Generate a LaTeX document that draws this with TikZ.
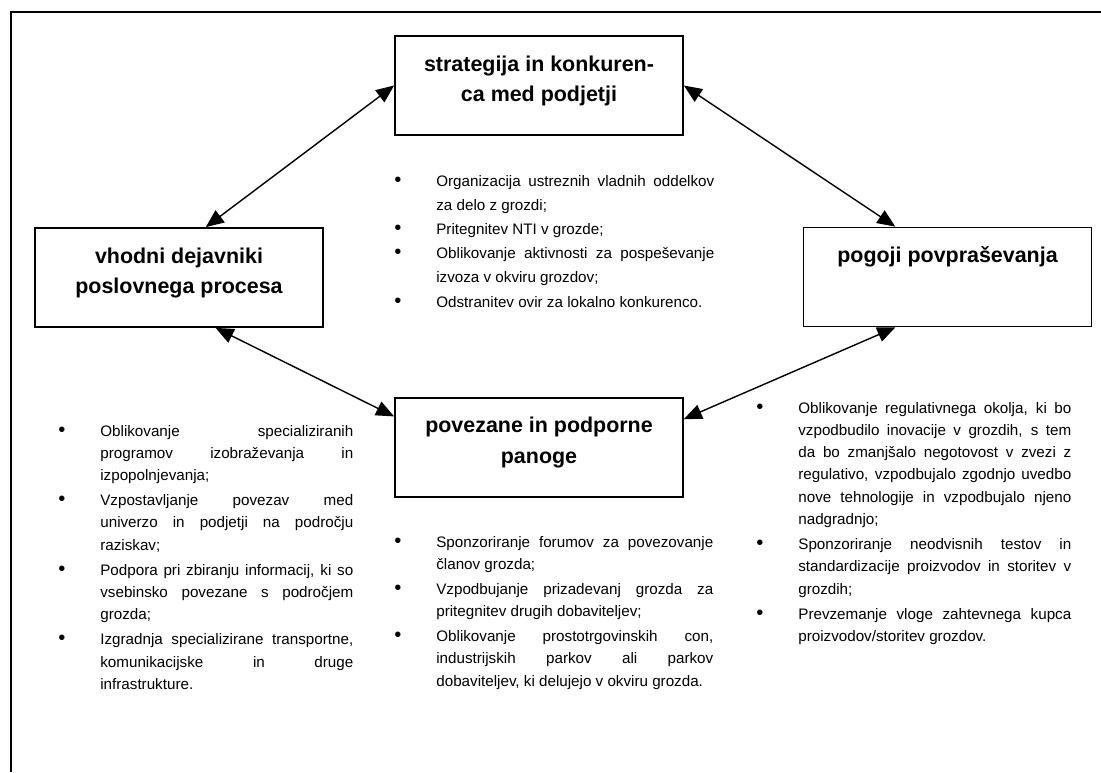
\documentclass[tikz,border=0pt]{standalone}
\usepackage{fontspec}
\setmainfont{Liberation Sans}
\usetikzlibrary{positioning,arrows.meta}

\newlength{\pxu}
\setlength{\pxu}{0.02cm}

% title of a box, set from the top
\newcommand{\boxtitle}[1]{\parbox[c][99\pxu][t]{288\pxu}{\centering
\fontsize{12.2}{17.6}\selectfont\bfseries\rule{0pt}{35\pxu}#1}}
\newcommand{\itm}{\noindent\llap{{\fontsize{11.5}{11.5}\selectfont\textbullet}\hspace{35\pxu}}}
\newcommand{\colset}[1]{\fontsize{8.65}{#1}\selectfont\setlength{\parskip}{1.5pt}\hyphenpenalty=10000 }

\begin{document}
\begin{tikzpicture}[
x=0.02cm, y=-0.02cm,
factor/.style={draw, line width=1pt, inner sep=0pt},
measures/.style={anchor=base west, inner sep=0pt, text width=#1, align=justify},
>={Triangle[length=0.36cm,width=0.3cm]}
]
\useasboundingbox (0,0) rectangle (1101,772);

% frame
\draw[line width=1.1pt] (11,772) -- (11,12) -- (1101,12);

\node[factor] (strategy) at (539,85.5) {\boxtitle{strategija in konkuren-\\ca med podjetji}};

\node[factor, below=5.22cm of strategy] (related) {\boxtitle{povezane in podporne\\panoge}};

\node[factor] (inputs) at (179,277.5) {\boxtitle{vhodni dejavniki\\poslovnega procesa}};

\node[factor] (demand) at (947.5,277) {\boxtitle{pogoji povpraševanja}};

\draw[<->, line width=0.8pt] (strategy.west) -- (inputs.62);
\draw[<->, line width=0.8pt] (strategy.east) -- (demand.136);
\draw[<->, line width=0.8pt] (inputs.-54) -- (related.168);
\draw[<->, line width=0.8pt] (demand.-136) -- (related.11);

% measures
\node[measures=5.56cm] (strategylist) at (436,186) {\colset{13.8}\setlength{\parskip}{0pt}%
\itm Organizacija ustreznih vladnih oddelkov\linebreak za delo z grozdi;\par
\itm Pritegnitev NTI v grozde;\par
\itm Oblikovanje aktivnosti za pospeševanje\linebreak izvoza v okviru grozdov;\par
\itm Odstranitev ovir za lokalno konkurenco.\par};

\node[measures=5.06cm] (inputslist) at (100,436) {\colset{12.7}%
\itm Oblikovanje specializiranih\linebreak programov izobraževanja in\linebreak izpopolnjevanja;\par
\itm Vzpostavljanje povezav med\linebreak univerzo in podjetji na področju\linebreak raziskav;\par
\itm Podpora pri zbiranju informacij, ki so\linebreak vsebinsko povezane s področjem\linebreak grozda;\par
\itm Izgradnja specializirane transportne,\linebreak komunikacijske in druge\linebreak infrastrukture.\par};

\node[measures=5.54cm] (relatedlist) at (436,547) {\colset{12.7}%
\itm Sponzoriranje forumov za povezovanje\linebreak članov grozda;\par
\itm Vzpodbujanje prizadevanj grozda za\linebreak pritegnitev drugih dobaviteljev;\par
\itm Oblikovanje prostotrgovinskih con,\linebreak industrijskih parkov ali parkov\linebreak dobaviteljev, ki delujejo v okviru grozda.\par};

\node[measures=5.46cm] (demandlist) at (798,413) {\colset{12.7}%
\itm Oblikovanje regulativnega okolja, ki bo\linebreak vzpodbudilo inovacije v grozdih, s tem\linebreak da bo zmanjšalo negotovost v zvezi z\linebreak regulativo, vzpodbujalo zgodnjo uvedbo\linebreak nove tehnologije in vzpodbujalo njeno\linebreak nadgradnjo;\par
\itm Sponzoriranje neodvisnih testov in\linebreak standardizacije proizvodov in storitev v\linebreak grozdih;\par
\itm Prevzemanje vloge zahtevnega kupca\linebreak proizvodov/storitev grozdov.\par};

\end{tikzpicture}
\end{document}
